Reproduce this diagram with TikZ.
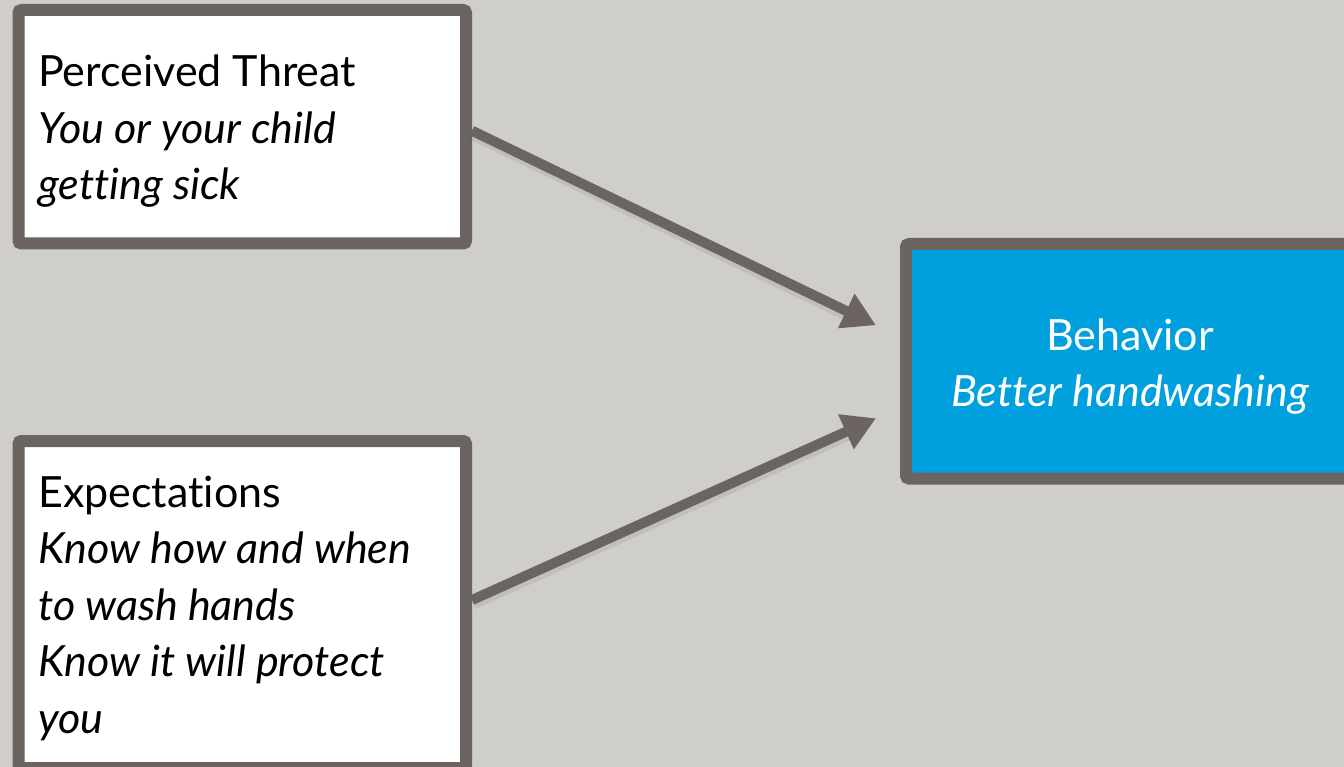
\documentclass[tikz,border=0pt]{standalone}
\usepackage{fontspec}
\setmainfont{Lato}[Ligatures=NoCommon]
\usetikzlibrary{arrows.meta}

\definecolor{bgcol}{RGB}{208,206,202}
\definecolor{framecol}{RGB}{107,100,97}
\definecolor{bluecol}{RGB}{0,160,222}

\tikzset{
  frame/.style={draw=framecol, line width=12pt, rounded corners=3pt, inner sep=0pt},
  whitebox/.style={frame, fill=white},
  bluebox/.style={frame, fill=bluecol},
  boxtext/.style={inner sep=0pt, font=\fontsize{43}{56.5}\selectfont},
  link/.style={draw=framecol, line width=10pt, -{Triangle[length=33pt,width=36pt]}},
  linkshadow/.style={draw=black, opacity=0.07, line width=13pt, transform canvas={shift={(1pt,-3pt)}}}
}

\newcommand{\stackleft}[1]{\vtop{\baselineskip=56.5pt #1}}

\begin{document}
\begin{tikzpicture}[x=1pt, y=-1pt]
  % page
  \fill[bgcol] (0,0) rectangle (1344,767);
  \useasboundingbox (0,0) rectangle (1344,767);

  % boxes
  \node[whitebox, minimum width=447.5pt, minimum height=233.5pt] (threat) at (242.25,126.75) {};
  \node[whitebox, minimum width=447.5pt, minimum height=327pt] (expect) at (242.25,604.5) {};
  \node[bluebox, minimum width=454pt, minimum height=234.5pt] (behavior) at (1133,361.25) {};

  % texts
  \node[boxtext, anchor=base west] (threattext) at (38,87)
    {\stackleft{\hbox{Perceived Threat}\hbox{\itshape You or your child}\hbox{\itshape getting sick}}};
  \node[boxtext, anchor=base west] (expecttext) at (38,507)
    {\stackleft{\hbox{Expectations}\hbox{\itshape Know how and when}\hbox{\itshape to wash hands}\hbox{\itshape Know it will protect}\hbox{\itshape you}}};
  \node[boxtext, anchor=base, text=white] (behaviortext) at (1130,350)
    {\stackleft{\hbox to 0pt{\hss Behavior\hss}\hbox to 0pt{\hss\itshape Better handwashing\hss}}};

  % connectors with a faint drop shadow
  \draw[linkshadow] ([yshift=-4pt]threat.east) -- ([xshift=-40pt,yshift=43pt]behavior.west);
  \draw[linkshadow] ([yshift=4.5pt]expect.east) -- ([xshift=-40pt,yshift=-64pt]behavior.west);
  \draw[link] ([yshift=-4pt]threat.east) -- ([xshift=-24pt,yshift=36pt]behavior.west);
  \draw[link] ([yshift=4.5pt]expect.east) -- ([xshift=-24pt,yshift=-57pt]behavior.west);
\end{tikzpicture}
\end{document}
